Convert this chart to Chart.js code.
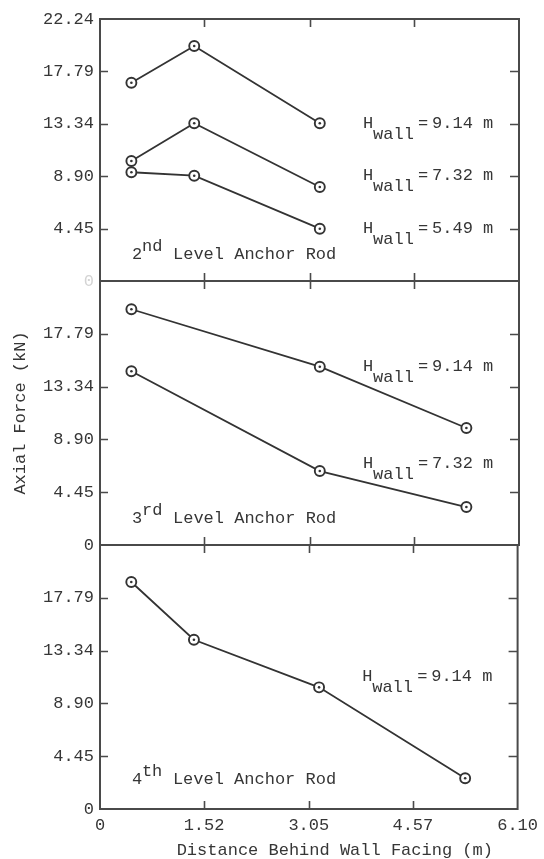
<!DOCTYPE html>
<html>
<head>
<meta charset="utf-8">
<script src="https://cdn.jsdelivr.net/npm/chart.js@4"></script>
<style>
html,body{margin:0;padding:0;background:#fff;}
#wrap{position:relative;width:544px;height:859px;overflow:hidden;}
#wrap canvas{position:absolute;left:0;top:0;}
</style>
</head>
<body>
<div id="wrap">
<canvas id="c1" width="544" height="859"></canvas>
<canvas id="c2" width="544" height="859"></canvas>
<canvas id="c3" width="544" height="859"></canvas>
</div>
<script>
// ---------- data ----------
const xTicks = [0, 1.52, 3.05, 4.57, 6.10];
const xTickLabels = ["0", "1.52", "3.05", "4.57", "6.10"];
const yTicks = [0, 4.45, 8.90, 13.34, 17.79, 22.24];
const yTickLabels = ["0", "4.45", "8.90", "13.34", "17.79", "22.24"];

const level2Distance = [0.457, 1.372, 3.200];
const level2Force_H914 = [16.83, 19.95, 13.39];
const level2Force_H732 = [10.19, 13.39, 7.98];
const level2Force_H549 = [9.23, 8.94, 4.44];

const level3Distance = [0.457, 3.200, 5.334];
const level3Force_H914 = [19.86, 15.02, 9.86];
const level3Force_H732 = [14.64, 6.23, 3.20];

const level4Distance = [0.457, 1.372, 3.200, 5.334];
const level4Force_H914 = [19.12, 14.26, 10.25, 2.59];

const level2WallLabels = ["9.14", "7.32", "5.49"];
const level3WallLabels = ["9.14", "7.32"];
const level4WallLabels = ["9.14"];

const xTitle = "Distance Behind Wall Facing (m)";
const yTitle = "Axial Force (kN)";

// ---------- style ----------
const FONT = '"Liberation Mono", "DejaVu Sans Mono", monospace';
const INK = '#363636';
const LINE = '#333333';
const FRAME = '#4a4a4a';

function series(xs, ys) {
  return {
    data: xs.map((x, i) => ({x: x, y: ys[i]})),
    showLine: true,
    borderColor: LINE,
    borderWidth: 1.8,
    pointRadius: 5,
    pointBorderWidth: 1.9,
    pointBackgroundColor: '#ffffff',
    pointBorderColor: LINE,
    fill: false
  };
}

const decor = {
  id: 'decor',
  afterDatasetsDraw(chart, args, o) {
    const {ctx, chartArea: a, scales: {x, y}} = chart;
    ctx.save();
    // frame
    ctx.strokeStyle = FRAME;
    ctx.lineWidth = 2;
    ctx.strokeRect(a.left, a.top, a.right - a.left, a.bottom - a.top);
    // inward tick marks
    ctx.lineWidth = 1.6;
    ctx.beginPath();
    yTicks.forEach(v => {
      if (v <= yTicks[0] || v >= yTicks[yTicks.length - 1]) return;
      const py = Math.round(y.getPixelForValue(v)) + 0.5;
      ctx.moveTo(a.left, py); ctx.lineTo(a.left + 8, py);
      ctx.moveTo(a.right, py); ctx.lineTo(a.right - 9, py);
    });
    xTicks.forEach(v => {
      if (v <= xTicks[0] || v >= xTicks[xTicks.length - 1]) return;
      const px = Math.round(x.getPixelForValue(v)) + 0.5;
      ctx.moveTo(px, a.top); ctx.lineTo(px, a.top + 8);
      ctx.moveTo(px, a.bottom); ctx.lineTo(px, a.bottom - 8);
    });
    ctx.stroke();
    // centre dots of the markers
    ctx.fillStyle = LINE;
    chart.data.datasets.forEach((d, i) => {
      chart.getDatasetMeta(i).data.forEach(pt => {
        ctx.beginPath();
        ctx.arc(pt.x, pt.y, 1.3, 0, Math.PI * 2);
        ctx.fill();
      });
    });
    // text annotations
    ctx.fillStyle = INK;
    ctx.font = '17px ' + FONT;
    ctx.textBaseline = 'alphabetic';
    ctx.textAlign = 'left';
    (o.walls || []).forEach(w => {
      const px = x.getPixelForValue(w.x), py = y.getPixelForValue(w.y);
      ctx.fillText('H', px, py);
      ctx.fillText('wall', px + 10, py + 11);
      ctx.fillText('=', px + 55, py);
      ctx.fillText(w.h + ' m', px + 69, py);
    });
    if (o.level) {
      const L = o.level;
      const px = x.getPixelForValue(L.x), py = y.getPixelForValue(L.y);
      ctx.fillText(L.n, px, py);
      ctx.fillText(L.sup, px + 10, py - 8);
      ctx.fillText('Level Anchor Rod', px + 41, py);
    }
    if (o.xTitle) {
      ctx.textAlign = 'center';
      ctx.textBaseline = 'middle';
      ctx.fillText(o.xTitle, a.left + (a.right - a.left) / 2 + 26, 850);
    }
    ctx.restore();
  }
};

function makeChart(id, cfg) {
  return new Chart(document.getElementById(id), {
    type: 'scatter',
    data: {datasets: cfg.datasets},
    options: {
      responsive: false,
      animation: false,
      devicePixelRatio: 1,
      layout: {padding: {left: 0, right: 25, top: cfg.top, bottom: 859 - cfg.bottom - cfg.xHeight}},
      plugins: {
        legend: {display: false},
        tooltip: {enabled: false},
        decor: cfg.decor
      },
      scales: {
        x: {
          type: 'linear', min: xTicks[0], max: xTicks[xTicks.length - 1],
          afterBuildTicks: s => { s.ticks = xTicks.map(v => ({value: v})); },
          afterFit: s => { s.height = cfg.xHeight; },
          grid: {display: false, drawTicks: false},
          border: {display: false},
          ticks: {
            display: cfg.showX, autoSkip: false, maxRotation: 0, padding: 6,
            color: INK, font: {family: FONT, size: 17},
            callback: (v, i) => xTickLabels[i]
          }
        },
        y: {
          type: 'linear', min: yTicks[0], max: yTicks[yTicks.length - 1],
          afterBuildTicks: s => { s.ticks = yTicks.map(v => ({value: v})); },
          afterFit: s => { s.width = 100; },
          grid: {display: false, drawTicks: false},
          border: {display: false},
          ticks: {
            autoSkip: false, padding: 6,
            color: c => cfg.yColor(c.index),
            font: {family: FONT, size: 17},
            callback: (v, i) => cfg.yLabel(i)
          },
          title: cfg.yTitle ? {
            display: true, text: cfg.yTitle, color: INK,
            font: {family: FONT, size: 17}, padding: {top: 10, bottom: 0}
          } : {display: false}
        }
      }
    },
    plugins: [decor]
  });
}

makeChart('c1', {
  top: 19, bottom: 281, xHeight: 0, showX: false,
  yLabel: i => yTickLabels[i],
  yColor: i => i === 0 ? '#d4d4d4' : INK,
  datasets: [
    series(level2Distance, level2Force_H914),
    series(level2Distance, level2Force_H732),
    series(level2Distance, level2Force_H549)
  ],
  decor: {
    walls: [
      {h: level2WallLabels[0], x: 3.83, y: 13.0},
      {h: level2WallLabels[1], x: 3.83, y: 8.55},
      {h: level2WallLabels[2], x: 3.83, y: 4.1}
    ],
    level: {n: '2', sup: 'nd', x: 0.466, y: 1.87}
  }
});

makeChart('c2', {
  top: 281, bottom: 545, xHeight: 0, showX: false,
  yLabel: i => i === yTickLabels.length - 1 ? '' : yTickLabels[i],
  yColor: i => INK,
  yTitle: yTitle,
  datasets: [
    series(level3Distance, level3Force_H914),
    series(level3Distance, level3Force_H732)
  ],
  decor: {
    walls: [
      {h: level3WallLabels[0], x: 3.83, y: 14.69},
      {h: level3WallLabels[1], x: 3.83, y: 6.46}
    ],
    level: {n: '3', sup: 'rd', x: 0.466, y: 1.83}
  }
});

makeChart('c3', {
  top: 545, bottom: 809, xHeight: 50, showX: true,
  yLabel: i => i === yTickLabels.length - 1 ? '' : yTickLabels[i],
  yColor: i => INK,
  datasets: [
    series(level4Distance, level4Force_H914)
  ],
  decor: {
    walls: [
      {h: level4WallLabels[0], x: 3.83, y: 10.82}
    ],
    level: {n: '4', sup: 'th', x: 0.466, y: 2.08},
    xTitle: xTitle
  }
});
</script>
</body>
</html>
